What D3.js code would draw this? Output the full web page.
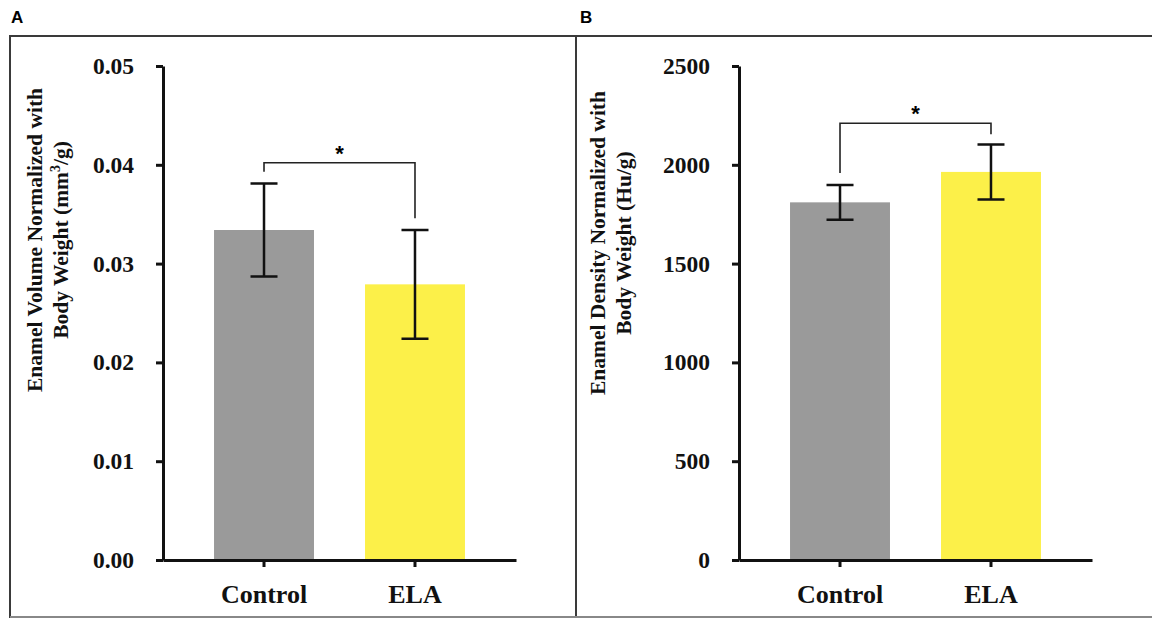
<!DOCTYPE html>
<html>
<head>
<meta charset="utf-8">
<script src="https://cdn.jsdelivr.net/npm/d3@7"></script>
<style>
  body { margin: 0; background: #fff; }
  svg { display: block; }
  .tick text { font-family: "Liberation Serif", "Times New Roman", serif; font-weight: bold; }
</style>
</head>
<body>
<div id="chart"></div>
<script>
// data
var groups = ["Control", "ELA"];
var volumeMean = [0.0334, 0.0279];
var volumeSD = [0.0047, 0.0055];
var densityMean = [1810, 1964];
var densitySD = [88, 139];
var volumeTicks = [0, 0.01, 0.02, 0.03, 0.04, 0.05];
var densityTicks = [0, 500, 1000, 1500, 2000, 2500];
var barColors = ["#9a9a9a", "#fcf049"];

var W = 1152, H = 618;
var svg = d3.select("#chart").append("svg")
    .attr("width", W)
    .attr("height", H);

// panel frames
svg.append("rect")
  .attr("x", 10).attr("y", 36)
  .attr("width", 1180).attr("height", 581)
  .attr("fill", "none")
  .attr("stroke", "#3a3a3a")
  .attr("stroke-width", 2);
svg.append("line")
  .attr("x1", 576).attr("x2", 576)
  .attr("y1", 36).attr("y2", 617)
  .attr("stroke", "#3a3a3a")
  .attr("stroke-width", 2);
svg.append("line")
  .attr("x1", 10).attr("x2", 1152)
  .attr("y1", 617).attr("y2", 617)
  .attr("stroke", "#888")
  .attr("stroke-width", 2);

// panel letters
svg.append("text").attr("x", 11).attr("y", 23)
  .style("font-family", "Liberation Sans, Arial, sans-serif")
  .style("font-weight", "bold").style("font-size", "17px")
  .text("A");
svg.append("text").attr("x", 580).attr("y", 23)
  .style("font-family", "Liberation Sans, Arial, sans-serif")
  .style("font-weight", "bold").style("font-size", "17px")
  .text("B");

function drawPanel(opts) {
  var g = svg.append("g");

  var x = d3.scaleBand()
    .domain(groups)
    .range([opts.left, opts.left + 353])
    .paddingInner(0.338)
    .paddingOuter(0.338);

  var y = d3.scaleLinear()
    .domain(opts.domain)
    .range([560, 66]);

  // bars
  g.selectAll(".bar")
    .data(groups)
    .enter()
    .append("rect")
      .attr("x", function (d) { return x(d); })
      .attr("y", function (d, i) { return y(opts.mean[i]); })
      .attr("width", x.bandwidth())
      .attr("height", function (d, i) { return y(0) - y(opts.mean[i]); })
      .attr("fill", function (d, i) { return barColors[i]; });

  // error bars
  var cap = 13.5;
  groups.forEach(function (d, i) {
    var cx = x(d) + x.bandwidth() / 2;
    var hi = y(opts.mean[i] + opts.sd[i]);
    var lo = y(opts.mean[i] - opts.sd[i]);
    g.append("path")
      .attr("d", "M" + cx + "," + hi + "V" + lo +
                 "M" + (cx - cap) + "," + hi + "H" + (cx + cap) +
                 "M" + (cx - cap) + "," + lo + "H" + (cx + cap))
      .attr("fill", "none")
      .attr("stroke", "#111")
      .attr("stroke-width", 2.5);
  });

  // significance bracket
  var c0 = x(groups[0]) + x.bandwidth() / 2;
  var c1 = x(groups[1]) + x.bandwidth() / 2;
  var by = y(opts.bracket);
  g.append("path")
    .attr("d", "M" + c0 + "," + y(opts.legs[0]) + "V" + by + "H" + c1 + "V" + y(opts.legs[1]))
    .attr("fill", "none")
    .attr("stroke", "#222")
    .attr("stroke-width", 1.6);
  g.append("text")
    .attr("x", (c0 + c1) / 2)
    .attr("y", by - 2)
    .attr("text-anchor", "middle")
    .style("font-family", "Liberation Sans, Arial, sans-serif")
    .style("font-weight", "bold")
    .style("font-size", "22px")
    .text("*");

  // y axis
  var yAxis = d3.axisLeft(y)
    .tickValues(opts.ticks)
    .tickFormat(opts.fmt)
    .tickSize(7)
    .tickSizeOuter(0)
    .tickPadding(22);
  var ya = g.append("g")
    .attr("transform", "translate(" + opts.left + ",0)")
    .call(yAxis);
  ya.select(".domain").attr("stroke", "#111").attr("stroke-width", 3);
  ya.selectAll(".tick line").attr("stroke", "#111").attr("stroke-width", 3);
  ya.selectAll(".tick text")
    .style("font-size", "23.5px")
    .attr("fill", "#111");

  // x axis
  var xAxis = d3.axisBottom(x)
    .tickSize(7)
    .tickSizeOuter(0)
    .tickPadding(18);
  var xa = g.append("g")
    .attr("transform", "translate(0,560)")
    .call(xAxis);
  xa.select(".domain").attr("stroke", "#111").attr("stroke-width", 3);
  xa.selectAll(".tick line").attr("stroke", "#111").attr("stroke-width", 3);
  xa.selectAll(".tick text")
    .style("font-size", "26px")
    .attr("fill", "#111");

  // y axis title, two lines
  var t = g.append("text")
    .attr("transform", "translate(" + opts.titleX + "," + opts.titleY + ") rotate(-90)")
    .attr("text-anchor", "middle")
    .style("font-family", "Liberation Serif, Times New Roman, serif")
    .style("font-weight", "bold")
    .style("font-size", "21.5px")
    .attr("fill", "#111");
  t.append("tspan").attr("x", 0).attr("y", 0).text(opts.title[0]);
  var t2 = t.append("tspan").attr("x", 0).attr("y", 26);
  opts.title2(t2);
}

drawPanel({
  left: 163,
  domain: [0, 0.05],
  mean: volumeMean,
  sd: volumeSD,
  ticks: volumeTicks,
  fmt: d3.format(".2f"),
  bracket: 0.0402,
  legs: [0.0393, 0.0346],
  titleX: 42,
  titleY: 240,
  title: ["Enamel Volume Normalized with"],
  title2: function (sel) {
    sel.text("Body Weight (mm");
    d3.select(sel.node().parentNode).append("tspan")
      .attr("dy", -8).style("font-size", "14px").text("3");
    d3.select(sel.node().parentNode).append("tspan")
      .attr("dy", 8).text("/g)");
  }
});

drawPanel({
  left: 739,
  domain: [0, 2500],
  mean: densityMean,
  sd: densitySD,
  ticks: densityTicks,
  fmt: d3.format("d"),
  bracket: 2210,
  legs: [1958, 2155],
  titleX: 605,
  titleY: 243,
  title: ["Enamel Density Normalized with"],
  title2: function (sel) {
    sel.text("Body Weight (Hu/g)");
  }
});
</script>
</body>
</html>
